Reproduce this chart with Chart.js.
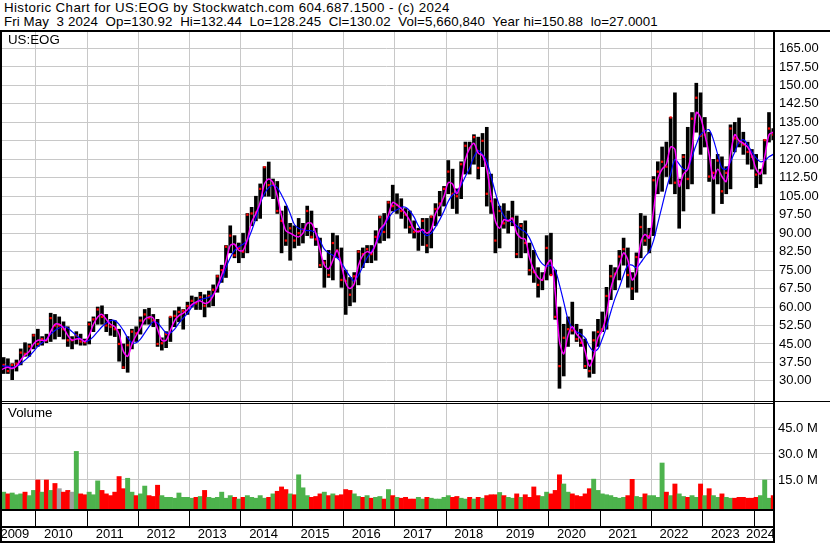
<!DOCTYPE html>
<html>
<head>
<meta charset="utf-8">
<title>US:EOG</title>
<script src="https://cdn.jsdelivr.net/npm/chart.js@4.4.1/dist/chart.umd.min.js"></script>
<style>
  html, body { margin: 0; padding: 0; background: #fff; }
  #wrap { position: relative; width: 830px; height: 543px; overflow: hidden; background: #fff;
          font-family: "Liberation Sans", Arial, sans-serif; color: #000; }
  .txt { position: absolute; white-space: pre; font-size: 13.3px; line-height: 14px; }
  .ln { position: absolute; background: #000; }
  canvas { position: absolute; left: 0; }
</style>
</head>
<body>
<div id="wrap">
  <div class="txt" style="left:4px;top:1px;letter-spacing:0.4px">Historic Chart for US:EOG by Stockwatch.com 604.687.1500 - (c) 2024</div>
  <div class="txt" style="left:4px;top:15px;letter-spacing:0.1px">Fri May  3 2024  Op=130.92  Hi=132.44  Lo=128.245  Cl=130.02  Vol=5,660,840  Year hi=150.88  lo=27.0001</div>

  <canvas id="priceChart" width="830" height="369" style="top:32px"></canvas>
  <canvas id="volumeChart" width="830" height="140" style="top:403px"></canvas>

  <div class="txt" style="left:8px;top:33px">US:EOG</div>
  <div class="txt" style="left:8px;top:406px">Volume</div>

  <!-- frame -->
  <div class="ln" style="left:0;top:30px;width:830px;height:2px"></div>
  <div class="ln" style="left:0;top:30px;width:2px;height:513px"></div>
  <div class="ln" style="left:773px;top:30px;width:2px;height:513px"></div>
  <div class="ln" style="left:0;top:401px;width:830px;height:1px"></div>
  <div class="ln" style="left:0;top:403px;width:775px;height:1px"></div>
  <div class="ln" style="left:0;top:509px;width:775px;height:2px"></div>
  <div class="ln" style="left:0;top:526px;width:775px;height:2px"></div>
  <div class="ln" style="left:0;top:541px;width:775px;height:2px"></div>
</div>

<script>
// monthly bars, first one is April 2009, last one May 2024
const startYear = 2009;
const startMonth = 4;

const lows = [
  31, 33, 33, 30.5, 34, 36.5, 40, 40, 43,
  44, 44.5, 45.5, 46, 47, 48, 47, 44, 43, 45, 44.5, 44.5,
  45, 50, 53, 53, 50, 48.5, 48, 38, 35, 33.5, 43, 46,
  49, 53, 53, 52, 44, 42.5, 43.5, 46, 52, 54, 51, 57,
  60, 59, 59, 56, 60, 60.5, 66, 70, 72, 82, 80, 78,
  80, 82, 93, 95, 96, 105, 105, 104, 98, 82, 85, 79,
  84, 85, 86, 89, 88, 85, 76, 68, 72, 71, 80, 68,
  57, 60.5, 62, 69, 76, 78, 78, 79, 86, 87, 88, 99,
  98, 96, 92, 90, 88, 83, 85, 82, 84, 93, 97, 101,
  106, 100, 98, 104, 114, 114, 118, 112, 117, 101, 98, 82,
  84, 92, 90, 93, 80, 80, 82, 73, 70, 64, 67, 71,
  73, 55, 27, 32, 44, 49, 46, 44, 35, 31.5, 33, 44,
  50, 51, 63, 67, 71, 77, 68, 63, 66, 80, 85, 82,
  89, 106, 107, 113, 110, 106, 92, 99, 108, 110, 131, 122,
  125, 111, 98, 110, 102, 106, 108, 123, 125, 122, 118, 116,
  108.5, 110, 114, 127, 128
];

const highs = [
  37, 39.5, 39, 37, 38.5, 43, 45.5, 45, 49,
  51, 48, 49, 57.5, 57, 56, 54, 52, 48, 50, 49, 47,
  54, 56, 60, 60.5, 57, 55, 54.5, 51, 45, 48, 51, 52,
  56, 59, 59.5, 57, 55, 47.5, 50, 56, 58.5, 60, 59, 62,
  64.5, 64, 66, 65, 66.5, 69, 73, 77, 85, 93, 89, 86,
  90, 98, 100.5, 105, 110, 117, 118.9, 112, 111, 99, 101, 94,
  93, 96, 94, 101, 99, 92, 88, 79, 83, 90, 89, 84,
  75, 72, 74, 83, 84, 85, 85, 91, 97, 98, 103, 109.5,
  106, 104, 100, 99, 95, 92, 96, 96, 97, 102, 107, 109,
  119.5, 116, 108, 119, 127, 127, 130, 129, 130.5, 133, 114, 104,
  101, 102, 99, 103, 97, 94, 95, 86, 83, 76, 74, 89,
  90, 75, 60, 53, 56, 62, 53, 51, 47, 38.5, 50, 55,
  58, 68, 77, 76, 83, 88, 84, 74, 82, 98, 97, 92,
  113, 119, 125, 127, 137, 147, 112, 122, 133, 139, 150.9, 147,
  137, 131, 120, 122, 121, 117, 134, 135, 136.8, 131, 127, 124,
  122, 116, 128, 139, 132.5
];

const closes = [
  35, 36.5, 34, 36.5, 37, 41.5, 41, 44, 48.5,
  45, 47, 46.5, 55.5, 52.5, 52.5, 51, 46.5, 46.5, 48.5, 46, 45.7,
  53, 55, 59, 56, 52.5, 52, 51, 45, 35.5, 44.5, 50, 49.3,
  54.5, 57, 55.5, 54.5, 45, 45.3, 49, 56, 56.4, 58, 58.5, 60.4,
  62.5, 61.5, 64, 60.5, 64.5, 67, 72.5, 75, 84.5, 89, 81, 84,
  82.5, 97.5, 98, 98.4, 108, 116.8, 109.5, 110, 99, 95, 87, 92,
  87, 90, 91.5, 99, 88.5, 87.5, 77, 78, 73, 86, 83, 71,
  70.6, 65, 72.5, 82.5, 81.5, 83.5, 81.5, 88.5, 96.5, 90.5, 102.5, 101,
  101.5, 99, 97.5, 92.5, 90.5, 90.8, 95, 85, 96.7, 99.8, 102, 108,
  115, 106, 105, 118, 125.5, 124.5, 129, 116.5, 127.5, 106, 103, 87,
  99, 94, 95, 96, 81.5, 93, 86, 75, 74.2, 69, 71, 84,
  73, 56, 36, 47.5, 51, 50.5, 47, 45.5, 36, 34, 46.5, 49.9,
  51, 64.5, 72.5, 73.5, 80.5, 83.5, 73, 67.5, 80.3, 92.5, 87, 88.8,
  111.5, 115, 119, 117, 137, 110.5, 111, 121, 112, 136.5, 145, 129.5,
  130, 113, 114.5, 119.5, 107, 114.5, 132.5, 128.5, 126.8, 126, 123, 121,
  113.8, 114.5, 127.8, 132.5, 130
];

// short moving average (magenta)
const maFast = [
  34, 35, 35.5, 35, 36, 38.5, 40.5, 42, 45,
  46.5, 46.5, 46.5, 50, 53, 53, 51.5, 48.5, 46.5, 47, 47, 46,
  48.5, 53, 56, 57, 55, 53, 52, 49, 42, 40, 45, 48.5,
  51.5, 55, 56, 55.5, 51, 46.5, 46.5, 50.5, 54.5, 56.5, 57.5, 59,
  61, 62, 62.5, 61.5, 62, 64.5, 68.5, 73, 78.5, 85, 85.5, 83,
  83, 87.5, 94.5, 98, 102.5, 110, 112, 110.5, 105, 97, 91, 90,
  89, 88.5, 90, 94, 94, 90, 83, 77, 75.5, 79, 83, 77,
  70, 67.5, 69.5, 77, 81, 82.5, 82, 85.5, 91.5, 93.5, 97.5, 102.5,
  101.5, 100, 98, 95, 91.5, 90.5, 91.5, 90, 91.5, 98, 101, 105,
  110.5, 110, 106, 111, 120, 124.5, 126.5, 122.5, 121.5, 116, 105, 95,
  92, 95.5, 95, 96, 90, 88, 87.5, 80, 75, 72, 71, 77,
  79, 66, 46, 41, 48.5, 52, 49, 47, 42, 36, 40, 47.5,
  50.5, 57, 67.5, 73, 77, 82, 79, 71, 74, 86, 89.5, 88,
  99, 112, 116, 118, 125, 124, 109, 114, 116, 124, 139, 137,
  130, 122, 112, 116, 113, 111, 122, 130, 127.5, 126.5, 125, 121.5,
  116, 114, 121, 130, 131
];

// long moving average (blue)
const maSlow = [
  36.5, 36, 36, 35.5, 36, 37, 38.5, 40, 42,
  44, 45.5, 47, 49, 50.5, 51.5, 52, 51.5, 50, 48.5, 47, 46,
  46.5, 48, 50, 52, 53.5, 54.5, 54.5, 53, 50.5, 47.5, 45.5, 45.5,
  47, 49.5, 52, 54, 53.5, 51.5, 49.5, 49.5, 51, 53.5, 55.5, 57.5,
  60, 62, 63, 63.5, 64, 65, 68, 71, 76, 80, 83, 84.5,
  85.5, 87, 91, 96, 102, 106, 108.5, 109.5, 108.5, 105.5, 102, 98,
  93.5, 92, 91.5, 91, 91, 90, 87, 83.5, 82, 81, 80, 78,
  75, 72.5, 70.5, 73, 76.5, 80, 82.5, 85.5, 89, 93, 96, 98.5,
  99.5, 100.5, 100.5, 99, 96.5, 93, 90.5, 89, 90, 92.5, 95.5, 99,
  103, 105.5, 107, 109.5, 113, 116.5, 121, 123.5, 122, 119, 113, 106.5,
  101, 97, 95, 94.5, 93, 91.5, 90.5, 88, 84, 80, 77.5, 76.5,
  77, 75, 69, 62, 55, 51.5, 50, 49, 47.5, 44, 42, 43,
  47, 52, 58, 63.5, 68, 73, 77, 77, 76, 78, 80.5, 82.5,
  87, 94, 101, 108, 114, 120, 118, 116, 116, 121, 126, 130,
  131.5, 132, 128, 122, 116.5, 116, 119, 123, 127, 128, 126, 123,
  120.5, 119, 119.5, 121, 122
];

// volume in millions of shares
const volumes = [
  13, 8, 7, 7.5, 6.5, 7, 8, 6, 9,
  15, 8, 15, 9, 13, 10, 8, 9, 8, 31.5, 7, 6.5,
  8, 6.5, 14.5, 9, 7, 6, 8, 17, 10, 16, 8, 6,
  7, 11.5, 6, 5.5, 12, 6, 5, 5, 4.5, 7.5, 5, 5,
  4.5, 5, 5.5, 9, 5, 4.5, 5, 8, 4.5, 6, 5, 4,
  5, 6, 5, 4.5, 6, 4.5, 5, 7, 8.5, 11, 9.5, 7,
  6.5, 18, 10.5, 6, 5, 5.5, 7, 8, 6, 7, 6, 6.5,
  9.5, 9, 7, 5.5, 5, 6, 4.5, 5, 5.5, 4, 9.5, 6,
  5, 4.5, 5, 4, 4, 5, 4, 5, 4.5, 4, 4, 5,
  6, 5, 5.5, 4.5, 4, 5, 4, 5, 4.5, 6, 6.5, 6.5,
  7.8, 6, 5, 4.5, 7, 5, 6.5, 5, 11, 6, 5.5, 8,
  7, 9, 18, 12.7, 8, 7, 6, 5.5, 7, 10, 15.5, 9,
  7, 6.5, 6, 5, 4.5, 5, 6, 15.4, 5.5, 5, 7, 6,
  6, 5, 24.8, 8, 6, 12.7, 7, 5.5, 5, 6, 5, 12.7,
  6, 10, 6, 5, 7, 5, 4.5, 4.5, 5, 5, 4.5, 4.5,
  5, 6, 15, 4.5, 6
];

const yearLabels = ['2009', '2010', '2011', '2012', '2013', '2014', '2015', '2016',
  '2017', '2018', '2019', '2020', '2021', '2022', '2023', '2024'];
const priceTicks = [30, 37.5, 45, 52.5, 60, 67.5, 75, 82.5, 90, 97.5, 105, 112.5,
  120, 127.5, 135, 142.5, 150, 157.5, 165];
const volumeTicks = [15, 30, 45];

// visible time range (in years) and value ranges of the two panels
const xMin = 2009.304;
const xMax = 2024.37;
const priceMin = 21.84;
const priceMax = 171.70;
const volMin = -1.73;
const volMax = 59.42;

Chart.defaults.font.family = '"Liberation Sans", Arial, sans-serif';
Chart.defaults.font.size = 13;
Chart.defaults.color = '#000';

function monthX(i) {
  return startYear + (startMonth - 1 + i + 0.5) / 12;
}

const yearTicks = yearLabels.slice(1).map(Number);
const gridColor = '#c8c8c8';

const rangeData = lows.map((lo, i) => ({ x: monthX(i), y: [lo, highs[i]] }));
const closeData = closes.map((c, i) => ({ x: monthX(i), y: c }));
const fastData = maFast.map((v, i) => ({ x: monthX(i), y: v }));
const slowData = maSlow.map((v, i) => ({ x: monthX(i), y: v }));
const volData = volumes.map((v, i) => ({ x: monthX(i), y: v }));
const volColors = closes.map((c, i) => {
  if (i === 0 || c > closes[i - 1]) return '#4db34d';
  if (c < closes[i - 1]) return '#ff0000';
  return '#a0a0a0';
});

var priceCtx = document.getElementById('priceChart').getContext('2d');
var priceChart = new Chart(priceCtx, {
  type: 'bar',
  data: {
    datasets: [
      {
        type: 'line',
        data: slowData,
        borderColor: '#0000ff',
        borderWidth: 1.2,
        pointRadius: 0,
        tension: 0.3,
        order: 1
      },
      {
        type: 'line',
        data: fastData,
        borderColor: '#ff00ff',
        borderWidth: 1.5,
        pointRadius: 0,
        tension: 0.3,
        order: 0
      },
      {
        type: 'line',
        data: closeData,
        showLine: false,
        pointStyle: 'rect',
        pointRadius: 1.6,
        pointBorderWidth: 0,
        pointBackgroundColor: '#ff0000',
        order: 2
      },
      {
        data: rangeData,
        backgroundColor: '#000',
        barThickness: 3,
        borderWidth: 0,
        order: 3
      }
    ]
  },
  options: {
    responsive: false,
    animation: false,
    events: [],
    layout: { padding: 0, autoPadding: false },
    plugins: { legend: { display: false }, tooltip: { enabled: false } },
    scales: {
      x: {
        type: 'linear',
        min: xMin,
        max: xMax,
        offset: false,
        afterBuildTicks: s => { s.ticks = yearTicks.map(v => ({ value: v })); },
        afterFit: s => { s.height = 0; },
        grid: { color: gridColor, drawTicks: false, offset: false },
        border: { display: false },
        ticks: { display: false }
      },
      y: {
        position: 'right',
        min: priceMin,
        max: priceMax,
        afterBuildTicks: s => { s.ticks = priceTicks.map(v => ({ value: v })); },
        afterFit: s => { s.width = 57; s.paddingTop = 0; s.paddingBottom = 0; },
        grid: { color: gridColor, drawTicks: false },
        border: { display: false },
        ticks: { padding: 6, autoSkip: false, callback: v => v.toFixed(2) }
      }
    }
  }
});

// year names under the volume panel, centred in each year
const yearLabelPlugin = {
  id: 'yearLabels',
  afterDraw(chart) {
    const xs = chart.scales.x;
    const area = chart.chartArea;
    const c = chart.ctx;
    c.save();
    c.font = '13px "Liberation Sans", Arial, sans-serif';
    c.fillStyle = '#000';
    c.textAlign = 'center';
    c.textBaseline = 'middle';
    yearLabels.forEach(function (label) {
      const yr = Number(label);
      const left = Math.max(xs.getPixelForValue(yr), area.left);
      const right = Math.min(xs.getPixelForValue(yr + 1), area.right);
      c.fillText(label, (left + right) / 2 - 3, 131);
    });
    c.restore();
  }
};

var volCtx = document.getElementById('volumeChart').getContext('2d');
var volumeChart = new Chart(volCtx, {
  type: 'bar',
  data: {
    datasets: [
      {
        data: volData,
        backgroundColor: volColors,
        base: volMin,
        barPercentage: 1,
        categoryPercentage: 1,
        borderWidth: 0
      }
    ]
  },
  options: {
    responsive: false,
    animation: false,
    events: [],
    layout: { padding: 0, autoPadding: false },
    plugins: { legend: { display: false }, tooltip: { enabled: false } },
    scales: {
      x: {
        type: 'linear',
        min: xMin,
        max: xMax,
        offset: false,
        afterBuildTicks: s => { s.ticks = yearTicks.map(v => ({ value: v })); },
        afterFit: s => { s.height = 34; },
        grid: { color: gridColor, tickColor: '#000', tickLength: 17, offset: false },
        border: { display: false },
        ticks: { display: false }
      },
      y: {
        position: 'right',
        min: volMin,
        max: volMax,
        afterBuildTicks: s => { s.ticks = volumeTicks.map(v => ({ value: v })); },
        afterFit: s => { s.width = 57; s.paddingTop = 0; s.paddingBottom = 0; },
        grid: { color: gridColor, drawTicks: false },
        border: { display: false },
        ticks: { padding: 5, autoSkip: false, callback: v => v.toFixed(1) + ' M' }
      }
    }
  },
  plugins: [yearLabelPlugin]
});
</script>
</body>
</html>
